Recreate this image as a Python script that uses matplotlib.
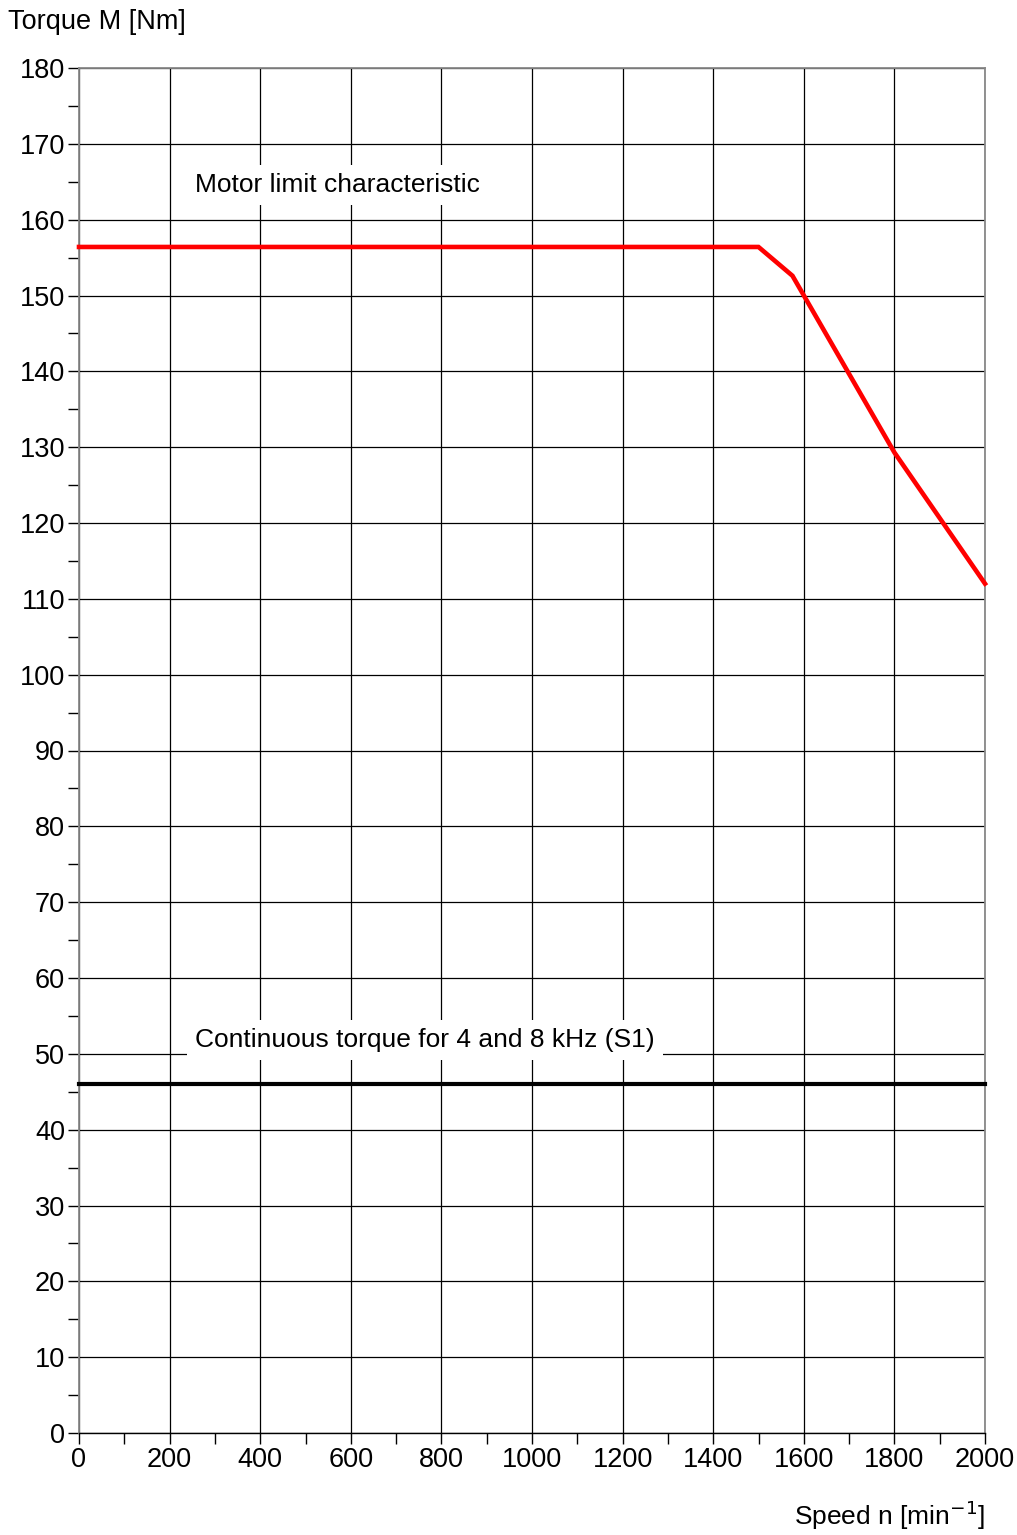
import matplotlib
matplotlib.use("Agg")
import matplotlib.pyplot as plt
import numpy as np

plt.rcParams['font.family'] = ['Liberation Sans', 'DejaVu Sans']

# motor limit characteristic (red)
limit_speed = [0, 1500, 1575, 1800, 2000]
limit_torque = [156.4, 156.4, 152.6, 129.3, 112.0]

# continuous torque S1 (black)
s1_speed = [0, 2000]
s1_torque = [46.0, 46.0]

x_ticks = np.arange(0, 2001, 200)
y_ticks = np.arange(0, 181, 10)

fs = 19

fig = plt.figure(figsize=(10.17, 15.35), dpi=100)
ax = fig.add_axes([79 / 1017, 102 / 1535, 906 / 1017, 1365 / 1535])

ax.set_xlim(0, 2000)
ax.set_ylim(0, 180)
ax.set_xticks(x_ticks)
ax.set_yticks(y_ticks)
ax.set_xticks(np.arange(100, 2000, 200), minor=True)
ax.set_yticks(np.arange(5, 180, 10), minor=True)
ax.grid(True, which='major', color='black', linewidth=0.9)
ax.set_axisbelow(True)

ax.tick_params(which='both', direction='out', length=8, width=1, color='black',
               labelsize=19.5, pad=2)

for side in ['left', 'top', 'right']:
    ax.spines[side].set_color('#888888')
    ax.spines[side].set_linewidth(1.3)
ax.spines['bottom'].set_color('black')
ax.spines['bottom'].set_linewidth(1)

ax.plot(limit_speed, limit_torque, color='#ff0000', linewidth=3.3,
        solid_joinstyle='miter', clip_on=False, zorder=3)
ax.plot(s1_speed, s1_torque, color='black', linewidth=3, clip_on=False, zorder=3)

box = dict(facecolor='white', edgecolor='none', boxstyle='square,pad=0.3')
ax.text(256, 164.6, "Motor limit characteristic", fontsize=fs, va='center', ha='left',
        bbox=box, zorder=2)
ax.text(256, 51.8, "Continuous torque for 4 and 8 kHz (S1)", fontsize=fs, va='center',
        ha='left', bbox=box, zorder=2)

fig.text(8 / 1017, 1 - 22 / 1535, "Torque M [Nm]", fontsize=19.5, va='center', ha='left')
fig.text(985 / 1017, 1 - 1525 / 1535, r"Speed n [min$^{\mathrm{-1}}$]", fontsize=fs,
         va='baseline', ha='right')

fig.savefig("out.png", dpi=100)
